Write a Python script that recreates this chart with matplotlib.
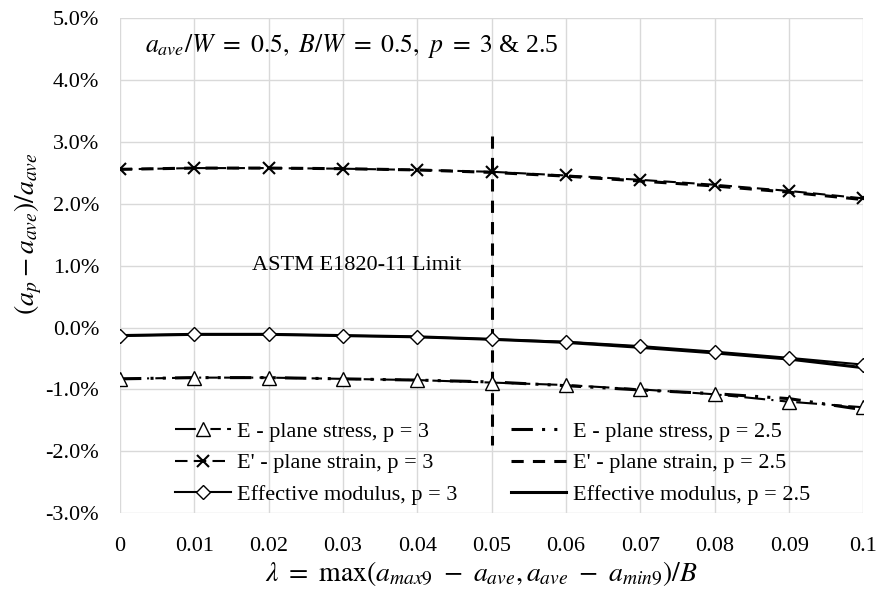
import numpy as np
import matplotlib
matplotlib.use('Agg')
import matplotlib.pyplot as plt
from matplotlib.ticker import FuncFormatter, MultipleLocator

# Fonts: Times-like serif for text, stix for math labels
plt.rcParams['font.family'] = 'Liberation Serif'
plt.rcParams['mathtext.fontset'] = 'stix'

# Data (values in %)
lam = [0, 0.01, 0.02, 0.03, 0.04, 0.05, 0.06, 0.07, 0.08, 0.09, 0.1]
e_stress_p3 = [-0.83, -0.81, -0.81, -0.83, -0.85, -0.89, -0.93, -1.00, -1.08, -1.20, -1.29]
e_stress_p25 = [-0.83, -0.81, -0.81, -0.83, -0.85, -0.88, -0.94, -1.01, -1.07, -1.15, -1.33]
e_strain_p3 = [2.56, 2.58, 2.58, 2.57, 2.55, 2.52, 2.46, 2.39, 2.31, 2.21, 2.09]
e_strain_p25 = [2.56, 2.58, 2.58, 2.57, 2.55, 2.51, 2.45, 2.37, 2.29, 2.19, 2.07]
eff_p3 = [-0.13, -0.11, -0.11, -0.13, -0.15, -0.19, -0.23, -0.30, -0.39, -0.49, -0.60]
eff_p25 = [-0.13, -0.11, -0.11, -0.13, -0.15, -0.19, -0.24, -0.32, -0.41, -0.51, -0.65]

limit_x = [0.05, 0.05]
limit_y = [3.1, -1.9]

fig, ax = plt.subplots(figsize=(8.82, 5.91), dpi=100)
fig.subplots_adjust(left=0.136, right=0.979, top=0.9687, bottom=0.132)

# p = 3 series with markers
l1, = ax.plot(lam, e_stress_p3, color='black', lw=1.5, dashes=(10, 3, 1, 3, 5, 3),
              marker='^', markersize=10, markerfacecolor='white', markeredgecolor='black',
              label='E - plane stress, p = 3', zorder=4)
l2, = ax.plot(lam, e_strain_p3, color='black', lw=1.5, dashes=(6, 3),
              marker='x', markersize=9, markeredgewidth=1.5,
              label="E' - plane strain, p = 3", zorder=4)
l3, = ax.plot(lam, eff_p3, color='black', lw=1.5,
              marker='D', markersize=7, markerfacecolor='white', markeredgecolor='black',
              label='Effective modulus, p = 3', zorder=4)

# p = 2.5 series without markers
l4, = ax.plot(lam, e_stress_p25, color='black', lw=2.2, dashes=(7, 3, 1, 3, 1, 3),
              label='E - plane stress, p = 2.5', zorder=3)
l5, = ax.plot(lam, e_strain_p25, color='black', lw=2.2, dashes=(4, 3),
              label="E' - plane strain, p = 2.5", zorder=3)
l6, = ax.plot(lam, eff_p25, color='black', lw=2.2,
              label='Effective modulus, p = 2.5', zorder=3)

# ASTM limit
ax.plot(limit_x, limit_y, color='black', lw=2.2, dashes=(4, 3), zorder=3)
ax.text(0.0319, 1.0, 'ASTM E1820-11 Limit', fontsize=16, ha='center', va='center')

ax.text(0.0034, 4.55, r'$a_{ave}/W\ =\ 0.5,\ B/W\ =\ 0.5,\ p\ =\ 3$ & 2.5',
        fontsize=18.5, ha='left', va='center')

ax.set_xlim(0, 0.1)
ax.set_ylim(-3, 5)
ax.xaxis.set_major_locator(MultipleLocator(0.01))
ax.yaxis.set_major_locator(MultipleLocator(1))
ax.xaxis.set_major_formatter(FuncFormatter(lambda v, p: '0' if abs(v) < 1e-9 else ('%.2f' % v).rstrip('0')))
ax.yaxis.set_major_formatter(FuncFormatter(lambda v, p: '%.1f%%' % v))
ax.tick_params(axis='y', length=0, labelsize=16, pad=15)
ax.tick_params(axis='x', length=0, labelsize=16, pad=17)
ax.grid(True, color='#d9d9d9', lw=1)
ax.set_axisbelow(True)
for s in ax.spines.values():
    s.set_visible(False)

ax.set_xlabel(r'$\lambda\ =\ \max(a_{max9}\ -\ a_{ave}, a_{ave}\ -\ a_{min9})/B$', fontsize=20)
ax.xaxis.set_label_coords(0.4856, -0.093)
ax.set_ylabel(r'$(a_p - a_{ave})/a_{ave}$', fontsize=20)
ax.yaxis.set_label_coords(-0.102, 0.565)

leg = ax.legend(handles=[l1, l2, l3, l4, l5, l6], ncol=2, frameon=False,
                fontsize=16, handlelength=2.5, handletextpad=0.3,
                columnspacing=2.4, labelspacing=0.5, borderpad=0,
                loc='lower left', bbox_to_anchor=(0.074, 0.016), borderaxespad=0)

plt.savefig('out.png', dpi=100)
